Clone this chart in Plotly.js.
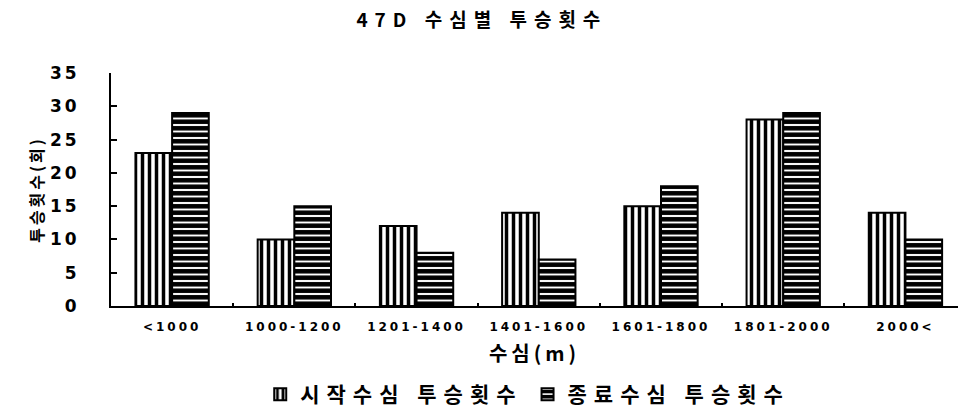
<!DOCTYPE html>
<html>
<head>
<meta charset="utf-8">
<script src="https://cdn.plot.ly/plotly-3.0.1.min.js"></script>
<style>
  html, body { margin: 0; padding: 0; background: #fff; }
  #chart { width: 958px; height: 415px; }
  /* wide, spaced lettering for all chart text */
  .gtitle { letter-spacing: 7px; }
  .xtitle { letter-spacing: 4px; }
  .ytitle { letter-spacing: 3px; }
  .xtick text { letter-spacing: 3px; }
  .ytick text { letter-spacing: 3px; }
  .legendtext { letter-spacing: 7px; }
</style>
</head>
<body>
<div id="chart"></div>
<script>
// Depth bands (m)
const depthBands = ['<1000', '1000-1200', '1201-1400', '1401-1600', '1601-1800', '1801-2000', '2000<'];
// Number of sets, counted by depth at the start of setting
const startDepthSets = [23, 10, 12, 14, 15, 28, 14];
// Number of sets, counted by depth at the end of setting
const endDepthSets = [29, 15, 8, 7, 18, 29, 10];
const seriesNames = ['시작수심 투승횟수', '종료수심 투승횟수'];
const yTicks = [0, 5, 10, 15, 20, 25, 30, 35];

const KR_FONT = '"Noto Sans CJK KR", sans-serif';
const NUM_FONT = '"DejaVu Sans", "Noto Sans CJK KR", sans-serif';

const traces = [
  {
    type: 'bar',
    name: seriesNames[0],
    x: depthBands,
    y: startDepthSets,
    marker: {
      color: '#ffffff',
      line: { color: '#000000', width: 2 },
      pattern: { shape: '|', fillmode: 'replace', bgcolor: '#ffffff', fgcolor: '#000000', size: 7, solidity: 0.5 }
    }
  },
  {
    type: 'bar',
    name: seriesNames[1],
    x: depthBands,
    y: endDepthSets,
    marker: {
      color: '#ffffff',
      line: { color: '#000000', width: 2 },
      pattern: { shape: '-', fillmode: 'replace', bgcolor: '#ffffff', fgcolor: '#000000', size: 6.5, solidity: 0.7 }
    }
  }
];

const layout = {
  width: 958,
  height: 415,
  margin: { l: 111, r: 0, t: 73, b: 108 },
  paper_bgcolor: '#ffffff',
  plot_bgcolor: '#ffffff',
  font: { family: KR_FONT, color: '#000000', size: 14, weight: 'bold' },
  title: {
    text: '47D 수심별 투승횟수',
    font: { family: KR_FONT, size: 19, color: '#000000', weight: 'bold' },
    x: 0.503, xref: 'container', xanchor: 'center',
    y: 0.952, yref: 'container', yanchor: 'middle'
  },
  barmode: 'group',
  bargap: 0.4,
  bargroupgap: 0,
  showlegend: true,
  legend: {
    orientation: 'h',
    x: 0.492, xanchor: 'center',
    y: -0.38, yanchor: 'middle',
    font: { family: KR_FONT, size: 21, weight: 'bold' },
    itemwidth: 30,
    traceorder: 'normal'
  },
  xaxis: {
    type: 'category',
    range: [-0.5, 6.43],
    showline: true,
    linecolor: '#000000',
    linewidth: 2,
    ticks: 'inside',
    tickson: 'boundaries',
    ticklen: 3,
    tickwidth: 2,
    tickcolor: '#000000',
    showgrid: false,
    zeroline: false,
    tickfont: { family: NUM_FONT, size: 12, weight: 'bold' },
    ticklabelstandoff: 9,
    title: { text: '수심(m)', font: { family: KR_FONT, size: 20, weight: 'bold' }, standoff: 14 }
  },
  yaxis: {
    range: [0, 35],
    tickvals: yTicks,
    showline: true,
    linecolor: '#000000',
    linewidth: 2,
    ticks: 'inside',
    ticklen: 6,
    tickwidth: 2,
    tickcolor: '#000000',
    showgrid: false,
    zeroline: false,
    tickfont: { family: NUM_FONT, size: 17, weight: 'bold' },
    ticklabelstandoff: 26,
    title: { text: '투승횟수(회)', font: { family: KR_FONT, size: 16, weight: 'bold' }, standoff: 2 }
  }
};

Plotly.newPlot('chart', traces, layout, { displayModeBar: false, staticPlot: true });
</script>
</body>
</html>
